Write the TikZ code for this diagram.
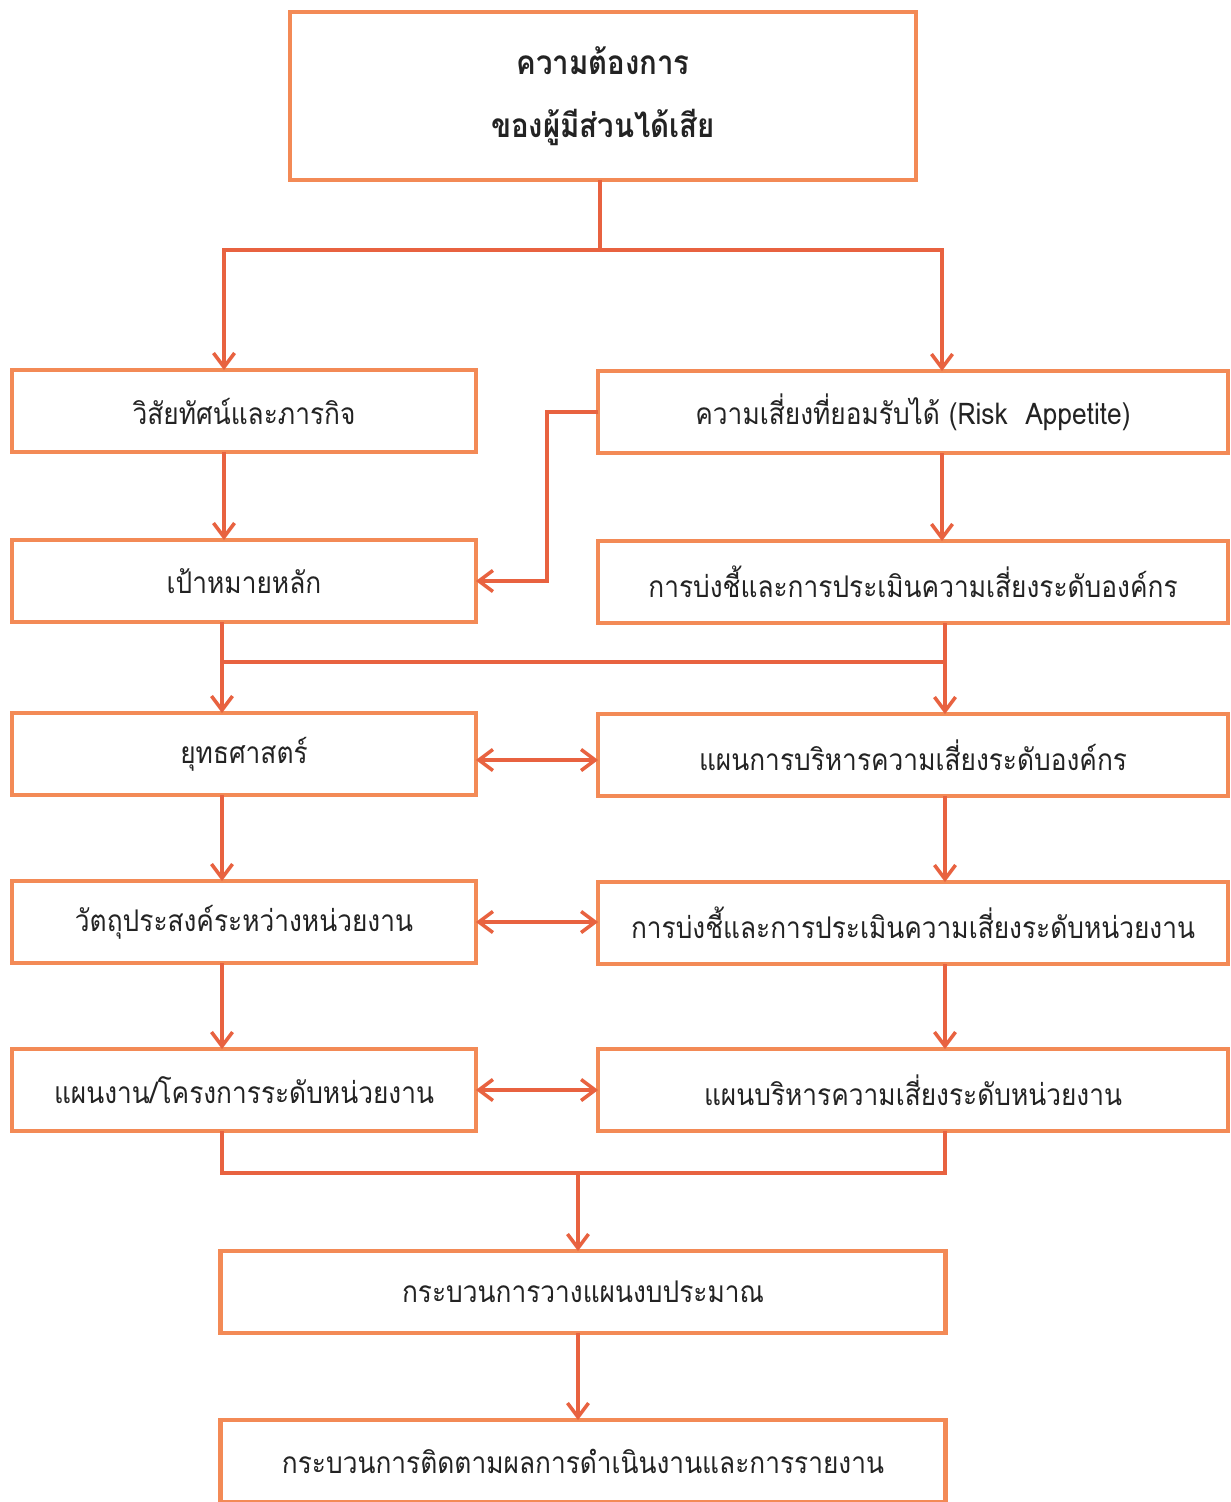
\documentclass[tikz,border=0pt]{standalone}
\usepackage{fontspec}
\setmainfont[Script=Thai,FakeStretch=0.88]{Loma}
\usetikzlibrary{arrows.meta}
\definecolor{boxcol}{RGB}{243,138,86}
\definecolor{linecol}{RGB}{232,98,64}
\definecolor{txtcol}{RGB}{35,35,35}
\begin{document}
\begin{tikzpicture}[x=0.02cm,y=-0.02cm,
  box/.style={draw=boxcol,line width=2.6pt,fill=white,inner sep=0pt,outer sep=0pt,
    text=txtcol,font=\fontsize{17}{20}\selectfont,align=center},
  lbox/.style={box,minimum width=9.28cm,minimum height=1.64cm},
  rbox/.style={box,minimum width=12.6cm,minimum height=1.64cm},
  bbox/.style={box,minimum width=14.5cm,minimum height=1.64cm},
  conn/.style={draw=linecol,line width=2pt},
  arr/.style={conn,-{Straight Barb[length=8pt,width=12pt,line width=2pt]}},
  darr/.style={conn,{Straight Barb[length=8pt,width=12pt,line width=2pt]}-{Straight Barb[length=8pt,width=12pt,line width=2pt]}}]
\useasboundingbox[fill=white] (0,0) rectangle (1231,1502);
% nodes
\node[box,minimum width=12.52cm,minimum height=3.36cm,font=\bfseries\fontsize{19}{36}\selectfont] (top) at (603,96) {ความต้องการ\\ของผู้มีส่วนได้เสีย};
\node[lbox] (b1) at (244,411) {วิสัยทัศน์และภารกิจ};
\node[lbox] (b2) at (244,581) {เป้าหมายหลัก};
\node[lbox] (b3) at (244,754) {ยุทธศาสตร์};
\node[lbox] (b4) at (244,922) {วัตถุประสงค์ระหว่างหน่วยงาน};
\node[lbox] (b5) at (244,1090) {แผนงาน/โครงการระดับหน่วยงาน};
\node[rbox] (r1) at (913,412) {ความเสี่ยงที่ยอมรับได้ (Risk\ \ Appetite)};
\node[rbox] (r2) at (913,582) {การบ่งชี้และการประเมินความเสี่ยงระดับองค์กร};
\node[rbox] (r3) at (913,755) {แผนการบริหารความเสี่ยงระดับองค์กร};
\node[rbox] (r4) at (913,923) {การบ่งชี้และการประเมินความเสี่ยงระดับหน่วยงาน};
\node[rbox] (r5) at (913,1090) {แผนบริหารความเสี่ยงระดับหน่วยงาน};
\node[bbox] (p1) at (583,1292) {กระบวนการวางแผนงบประมาณ};
\node[bbox] (p2) at (583,1461) {กระบวนการติดตามผลการดำเนินงานและการรายงาน};
% helper coordinates
\coordinate (xt) at (600,250);
\coordinate (xl) at (224,0);
\coordinate (xr) at (942,0);
\coordinate (xl2) at (222,0);
\coordinate (xr2) at (945,0);
\coordinate (yh1) at (0,662);
\coordinate (yh2) at (0,1173);
\coordinate (xm) at (578,0);
\coordinate (xk) at (547,0);
% connectors
\draw[conn] (top.south -| xt) -- (xt);
\draw[arr] (xt) -| (b1.north -| xl);
\draw[arr] (xt) -| (r1.north -| xr);
\draw[arr] (b1.south -| xl) -- (b2.north -| xl);
\draw[arr] (r1.south -| xr) -- (r2.north -| xr);
\draw[arr] (r1.west) -| (xk |- b2.east) -- (b2.east);
\draw[conn] (b2.south -| xl2) -- (yh1 -| xl2) -- (yh1 -| xr2) -- (r2.south -| xr2);
\draw[arr] (yh1 -| xl2) -- (b3.north -| xl2);
\draw[arr] (yh1 -| xr2) -- (r3.north -| xr2);
\draw[darr] (b3.east |- 0,760) -- (r3.west |- 0,760);
\draw[arr] (b3.south -| xl2) -- (b4.north -| xl2);
\draw[arr] (r3.south -| xr2) -- (r4.north -| xr2);
\draw[darr] (b4.east) -- (r4.west |- b4.east);
\draw[arr] (b4.south -| xl2) -- (b5.north -| xl2);
\draw[arr] (r4.south -| xr2) -- (r5.north -| xr2);
\draw[darr] (b5.east) -- (r5.west |- b5.east);
\draw[conn] (b5.south -| xl2) -- (yh2 -| xl2) -- (yh2 -| xr2) -- (r5.south -| xr2);
\draw[arr] (yh2 -| xm) -- (p1.north -| xm);
\draw[arr] (p1.south -| xm) -- (p2.north -| xm);
\end{tikzpicture}
\end{document}
